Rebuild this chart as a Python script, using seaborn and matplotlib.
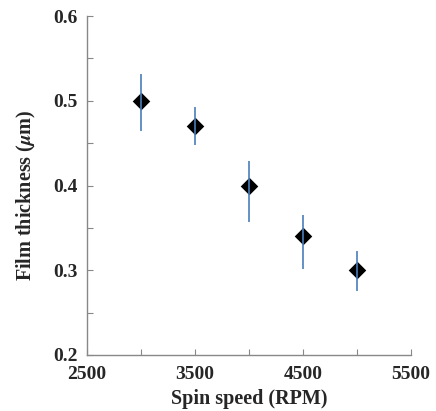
import numpy as np
import pandas as pd
import matplotlib
matplotlib.use("Agg")
import matplotlib.pyplot as plt
import seaborn as sns
from matplotlib.ticker import FixedLocator, MultipleLocator, FormatStrFormatter

speed = [3000, 3500, 4000, 4500, 5000]
thickness = [0.50, 0.47, 0.40, 0.34, 0.30]
err_low = [0.036, 0.022, 0.043, 0.038, 0.025]
err_high = [0.032, 0.023, 0.029, 0.025, 0.023]
x_ticks = [2500, 3500, 4500, 5500]
x_minor = [3000, 4000, 5000]

df = pd.DataFrame({"speed": speed, "thickness": thickness})

sns.set_style("ticks")
plt.rcParams["font.family"] = ["Liberation Serif", "DejaVu Serif"]
plt.rcParams["font.weight"] = "bold"
plt.rcParams["mathtext.fontset"] = "stix"

fig = plt.figure(figsize=(4.36, 4.11), dpi=100)
ax = fig.add_axes([0.1995, 0.1363, 0.7432, 0.8247])

sns.scatterplot(data=df, x="speed", y="thickness", marker="D", s=80,
                color="black", edgecolor="black", linewidth=0, ax=ax, zorder=2)
ax.errorbar(speed, thickness, yerr=[err_low, err_high], fmt="none",
            ecolor="#4a7ebb", elinewidth=1.2, capsize=0, zorder=3)

ax.set_xlim(2500, 5500)
ax.set_ylim(0.2, 0.6)
ax.xaxis.set_major_locator(FixedLocator(x_ticks))
ax.xaxis.set_minor_locator(FixedLocator(x_minor))
ax.yaxis.set_major_locator(MultipleLocator(0.1))
ax.yaxis.set_minor_locator(MultipleLocator(0.05))
ax.yaxis.set_major_formatter(FormatStrFormatter("%.1f"))
ax.tick_params(which="both", direction="in", length=4, width=0.8,
               color="#888888", labelsize=14)
ax.tick_params(axis="x", pad=8)
ax.tick_params(axis="y", pad=7)
for lab in ax.get_xticklabels() + ax.get_yticklabels():
    lab.set_fontweight("bold")

sns.despine(ax=ax)
for sp in ["left", "bottom"]:
    ax.spines[sp].set_color("#888888")
    ax.spines[sp].set_linewidth(1.0)

ax.set_xlabel("Spin speed (RPM)", fontsize=14.5, fontweight="bold", labelpad=4)
ax.set_ylabel("Film thickness ($\\mu$m)", fontsize=14.5, fontweight="bold")
ax.yaxis.set_label_coords(-0.152, 0.472)

fig.savefig("out.png", dpi=100)
